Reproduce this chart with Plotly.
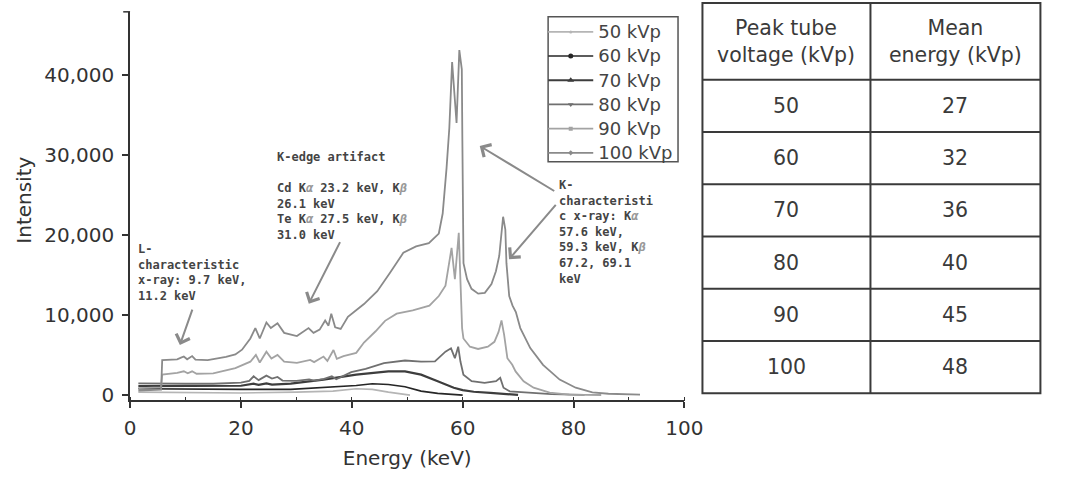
import plotly.graph_objects as go

W, H = 1077, 496

# ---------------- data ----------------
series_names = ["50 kVp", "60 kVp", "70 kVp", "80 kVp", "90 kVp", "100 kVp"]

e_50 = [1.5, 10.0, 20.0, 30.0, 36.6, 40.8, 43.7, 46.6, 49.6, 50.5]
i_50 = [400, 350, 300, 400, 530, 820, 740, 400, 120, 30]

e_60 = [1.5, 10.0, 20.0, 29.0, 35.0, 40.8, 43.7, 46.6, 49.6, 52.5, 55.5, 58.0, 60.0]
i_60 = [820, 750, 740, 740, 950, 1230, 1440, 1350, 1070, 530, 250, 100, 30]

e_70 = [1.5, 10.0, 20.0, 22.3, 23.2, 24.6, 25.6, 29.0, 34.9, 40.8, 44.0, 46.6, 49.6, 52.5, 55.5, 58.4,
        60.0, 62.0, 65.0, 68.0, 70.0]
i_70 = [1150, 1150, 1200, 1450, 1300, 1500, 1350, 1470, 1970, 2580, 2850, 2990, 2990, 2580, 1760, 950,
        650, 450, 300, 150, 50]

e_80 = [1.5, 5.0, 10.0, 15.0, 20.0, 21.5, 22.3, 23.2, 24.6, 25.6, 26.6, 27.5, 30.0, 32.3, 33.2, 35.0,
        36.4, 37.2, 39.9, 42.5, 45.8, 49.6, 52.5, 55.0, 56.9, 57.9, 58.6, 59.2, 59.6, 60.14, 61.62,
        63.96, 66.03, 66.78, 67.37, 68.5, 72.0, 76.0, 82.0]
i_80 = [1500, 1450, 1450, 1450, 1600, 1800, 2380, 1900, 2460, 2100, 2300, 1850, 1800, 2000, 1850, 2050,
        2380, 2000, 2900, 3300, 4020, 4350, 4220, 4250, 5450, 5870, 4640, 6070, 4220, 2580, 1760,
        1560, 1760, 2180, 950, 500, 300, 150, 50]

e_90 = [1.5, 5.6, 5.8, 8.5, 9.7, 10.4, 11.2, 12.0, 15.0, 19.0, 21.7, 22.7, 23.4, 24.6, 25.5, 26.6,
        27.8, 30.1, 32.5, 33.2, 34.9, 35.6, 36.7, 37.3, 38.5, 40.8, 42.2, 44.3, 46.0, 48.1, 51.0,
        54.0, 55.7, 56.9, 58.0, 58.6, 59.3, 59.7, 59.9, 60.14, 61.32, 62.78, 64.55, 65.73,
        66.48, 67.01, 67.49, 68.07, 68.95, 69.55, 71.0, 72.8, 75.7, 79.2, 85.0]
i_90 = [900, 1000, 2580, 2800, 3000, 2750, 3000, 2700, 2750, 3400, 4200, 5050, 4100, 5450, 4600, 5050,
        4200, 4060, 4430, 4150, 4840, 4300, 5660, 4550, 4900, 5300, 6600, 8000, 9300, 10200, 10600,
        11200, 12400, 13700, 18400, 14500, 20300, 12400, 8400, 7100, 6070, 5790, 6070, 6680,
        7920, 9360, 7510, 4640, 3820, 2990, 1760, 950, 330, 100, 40]

e_100 = [1.5, 5.6, 5.8, 7.0, 8.5, 9.2, 9.7, 10.3, 11.2, 11.8, 14.0, 17.3, 19.0, 20.2, 21.7, 22.6, 23.4,
         24.6, 25.4, 26.6, 27.8, 30.1, 32.2, 33.1, 34.2, 35.2, 35.8, 36.3, 37.0, 38.0, 39.3, 42.2, 44.6,
         46.9, 49.3, 51.6, 53.9, 55.7, 56.4, 57.1, 57.6, 58.1, 58.6, 58.9, 59.4, 59.85, 59.95, 60.05,
         60.15, 60.8, 61.6, 62.8, 64.0, 65.2, 66.0, 66.6, 67.0, 67.3, 67.7, 67.9, 68.4, 69.0, 69.6,
         70.4, 72.2, 74.5, 77.5, 80.4, 83.4, 86.3, 92.0]
i_100 = [600, 700, 4400, 4450, 4500, 4700, 4850, 4500, 4900, 4450, 4400, 4800, 5100, 5700, 7100, 8400, 7100,
         9100, 8400, 9000, 7800, 7400, 8400, 7800, 8200, 9350, 8700, 10200, 8500, 8300, 9800, 11400, 13000,
         15300, 17800, 18600, 19000, 20200, 22700, 28400, 33400, 41600, 36000, 34000, 43100, 40700, 31800, 22300,
         16500, 14500, 13300, 12700, 12800, 13900, 15500, 17400, 20700, 22300, 20700, 16500, 12400, 11200, 10400,
         8400, 5900, 3800, 1970, 950, 370, 200, 80]

x_ticks = [0, 20, 40, 60, 80, 100]
y_ticks = [0, 10000, 20000, 30000, 40000]

table_header = ["Peak tube<br>voltage (kVp)", "Mean<br>energy (kVp)"]
peak_voltage = [50, 60, 70, 80, 90, 100]
mean_energy = [27, 32, 36, 40, 45, 48]

# ---------------- styles ----------------
energies = [e_50, e_60, e_70, e_80, e_90, e_100]
intens = [i_50, i_60, i_70, i_80, i_90, i_100]
colors = ["#b5b5b5", "#262626", "#3d3d3d", "#707070", "#a3a3a3", "#8a8a8a"]
widths = [1.6, 1.6, 2.2, 1.8, 1.8, 1.8]
symbols = ["circle", "circle", "triangle-up", "triangle-down", "square", "diamond"]
msizes = [3, 5, 6, 5, 4, 4]

WIDE = "DejaVu Sans, Verdana, sans-serif"
MONO = "DejaVu Sans Mono, monospace"

fig = go.Figure()
for name, ex, iy, c, w, s, ms in zip(series_names, energies, intens, colors, widths, symbols, msizes):
    fig.add_trace(go.Scatter(
        x=ex, y=iy, name='<span style="font-size:18px">%s</span>' % name, mode="lines+markers",
        line=dict(color=c, width=w),
        marker=dict(symbol=s, size=ms, color=c),
        selectedpoints=[], unselected=dict(marker=dict(opacity=0)),
    ))

x0p, x1p, y0p, y1p = 127, 694.5, 406, 12
fig.update_layout(
    width=W, height=H,
    margin=dict(l=0, r=0, t=0, b=0),
    paper_bgcolor="white", plot_bgcolor="white",
    font=dict(family=WIDE, size=20, color="#333"),
    showlegend=True,
    legend=dict(x=550 / W, y=1 - 15 / H, xanchor="left", yanchor="top",
                borderwidth=0, bgcolor="rgba(0,0,0,0)",
                font=dict(family=WIDE, size=16.3, color="#444"),
                itemwidth=45, tracegroupgap=0),
    xaxis=dict(domain=[x0p / W, x1p / W], range=[0, 100], tickvals=x_ticks,
               showgrid=False, zeroline=False, showline=True, linecolor="#333", linewidth=1.5,
               ticks="outside", ticklen=6, tickwidth=1.5, tickcolor="#333",
               minor=dict(dtick=10, ticks="inside", ticklen=4, tickwidth=1.2, tickcolor="#333"),
               tickfont=dict(family=WIDE, size=20, color="#333"), ticklabelstandoff=3,
               title=dict(text="Energy (keV)", font=dict(family=WIDE, size=20, color="#333"),
                          standoff=12)),
    yaxis=dict(domain=[1 - y0p / H, 1 - y1p / H], range=[-615, 47880], tickvals=y_ticks,
               tickformat=",", showgrid=False, zeroline=False, showline=True, linecolor="#333",
               linewidth=1.5, ticks="outside", ticklen=6, tickwidth=1.5, tickcolor="#333",
               tickfont=dict(family=WIDE, size=20, color="#333"), ticklabelstandoff=4),
)

# legend frame
fig.add_shape(type="rect", xref="paper", yref="paper", x0=555 / W, x1=688 / W,
              y0=1 - 164 / H, y1=1 - 17 / H, line=dict(color="#555", width=1.5))

# y-axis title
fig.add_annotation(xref="paper", yref="paper", x=19 / W, y=1 - 203 / H, text="Intensity",
                   textangle=-90, showarrow=False, xanchor="center", yanchor="middle",
                   font=dict(family=WIDE, size=20, color="#333"))
# small cap at the top of the y axis
fig.add_shape(type="line", xref="paper", yref="paper", x0=120 / W, x1=x0p / W,
              y0=1 - y1p / H, y1=1 - y1p / H, line=dict(color="#333", width=1.5))

# ---------------- table (drawn from the lists) ----------------
tx0, tx1, tdiv, ty0, hh, rh = 713, 1059, 885, 3, 78, 53
ty1 = ty0 + hh + rh * len(peak_voltage)
line_style = dict(color="#3a3a3a", width=2)
fig.add_shape(type="rect", xref="paper", yref="paper", x0=tx0 / W, x1=tx1 / W,
              y0=1 - ty1 / H, y1=1 - ty0 / H, line=line_style, fillcolor="white", layer="below")
fig.add_shape(type="line", xref="paper", yref="paper", x0=tdiv / W, x1=tdiv / W,
              y0=1 - ty1 / H, y1=1 - ty0 / H, line=line_style)
for k in range(len(peak_voltage)):
    yy = ty0 + hh + rh * k
    fig.add_shape(type="line", xref="paper", yref="paper", x0=tx0 / W, x1=tx1 / W,
                  y0=1 - yy / H, y1=1 - yy / H, line=line_style)
col_c = [(tx0 + tdiv) / 2, (tdiv + tx1) / 2]
for ci, head in enumerate(table_header):
    fig.add_annotation(xref="paper", yref="paper", x=col_c[ci] / W, y=1 - (ty0 + hh / 2) / H,
                       text=head, showarrow=False, align="center", xanchor="center",
                       yanchor="middle", font=dict(family=WIDE, size=20.5, color="#3a3a3a"))
for ci, col in enumerate([peak_voltage, mean_energy]):
    for k, v in enumerate(col):
        yc = ty0 + hh + rh * k + rh / 2
        fig.add_annotation(xref="paper", yref="paper", x=col_c[ci] / W, y=1 - yc / H,
                           text=str(v), showarrow=False, xanchor="center", yanchor="middle",
                           font=dict(family=WIDE, size=20.5, color="#3a3a3a"))

# ---------------- annotations ----------------
ga = '<span style="color:#999"><i>%s</i></span>'
notes = [
    (133, 243, "L-<br>characteristic<br>x-ray: 9.7 keV,<br>11.2 keV"),
    (275, 150, "K-edge artifact<br> <br>Cd K" + ga % "α" + " 23.2 keV, K" + ga % "β" +
     "<br>26.1 keV<br>Te K" + ga % "α" + " 27.5 keV, K" + ga % "β" + "<br>31.0 keV"),
    (564, 179, "K-<br>characteristi<br>c x-ray: K" + ga % "α" + "<br>57.6 keV,<br>59.3 keV, K" +
     ga % "β" + "<br>67.2, 69.1<br>keV"),
]
for px, py, t in notes:
    fig.add_annotation(xref="paper", yref="paper", x=px / W, y=1 - py / H, xanchor="left",
                       yanchor="top", align="left", showarrow=False, text="<b>" + t + "</b>",
                       font=dict(family=MONO, size=12, color="#444"))

arrows = [((178, 350), (191, 313)), ((310, 308), (342, 245)),
          ((485, 148), (561, 194)), ((515, 263), (563, 207))]
for (hx, hy), (tx, ty) in arrows:
    fig.add_annotation(xref="paper", yref="paper", x=hx / W, y=1 - hy / H, ax=tx - hx, ay=ty - hy,
                       text="", showarrow=True, arrowhead=4, arrowsize=1.4, arrowwidth=2,
                       arrowcolor="#8a8a8a")

fig.write_html("out.html")
